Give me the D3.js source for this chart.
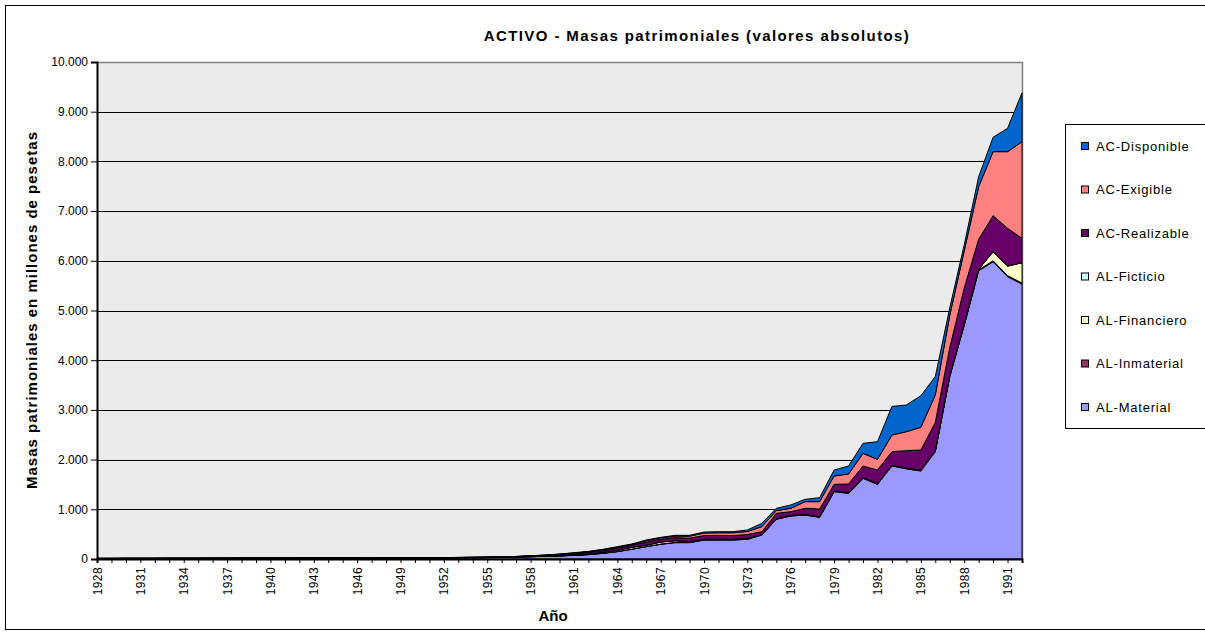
<!DOCTYPE html>
<html>
<head>
<meta charset="utf-8">
<script src="https://cdn.jsdelivr.net/npm/d3@7/dist/d3.min.js"></script>
<style>
  html, body { margin: 0; padding: 0; background: #fff; }
  svg { display: block; font-family: "Liberation Sans", Arial, sans-serif; }
</style>
</head>
<body>
<svg id="chart" width="1205" height="636"></svg>
<script>
// ---------------- DATA ----------------
const years = d3.range(1928, 1993);

const seriesNames = ["AL-Material", "AL-Inmaterial", "AL-Financiero", "AL-Ficticio",
                     "AC-Realizable", "AC-Exigible", "AC-Disponible"];
const seriesColors = ["#9999FF", "#993366", "#FFFFCC", "#CCFFFF",
                      "#660066", "#FF8080", "#0066CC"];

// values in millions of pesetas, 1928 .. 1992
const alMaterial = [
  8, 8, 9, 9, 9, 10, 10, 10, 11, 11,          // 1928-1937
  12, 12, 13, 13, 14, 14, 15, 15, 16, 17,     // 1938-1947
  18, 19, 20, 21, 22, 24, 26, 28, 32, 38,     // 1948-1957
  45, 52, 60, 74, 87, 114, 148, 195, 248, 295,// 1958-1967
  329, 329, 382, 382, 382, 396, 483, 798, 865, 885, // 1968-1977
  838, 1355, 1321, 1623, 1502, 1871, 1815, 1771, 2160, 3670, // 1978-1987
  4700, 5800, 5982, 5681, 5533                // 1988-1992
];
const alInmaterial = [
  1, 1, 1, 1, 1, 1, 1, 1, 1, 1,
  1, 1, 1, 1, 1, 1, 1, 1, 1, 1,
  1, 1, 1, 1, 1, 1, 1, 1, 1, 1,
  2, 2, 2, 2, 3, 3, 4, 4, 5, 6,
  6, 6, 7, 7, 7, 7, 5, 8, 8, 8,
  8, 10, 10, 10, 10, 10, 10, 10, 10, 12,
  15, 15, 20, 20, 20
];
const alFinanciero = [
  1, 1, 1, 1, 1, 1, 1, 1, 1, 1,
  1, 1, 1, 1, 1, 1, 1, 1, 1, 1,
  1, 1, 1, 1, 1, 2, 2, 2, 3, 3,
  4, 6, 8, 10, 14, 18, 24, 36, 25, 41,
  34, 14, 8, 8, 8, 8, 5, 5, 5, 5,
  5, 5, 5, 5, 5, 5, 5, 5, 5, 8,
  10, 15, 182, 194, 409
];
const alFicticio = [
  0, 0, 0, 0, 0, 0, 0, 0, 0, 0,
  0, 0, 0, 0, 0, 0, 0, 0, 0, 0,
  0, 0, 0, 0, 0, 0, 0, 0, 0, 0,
  0, 0, 0, 0, 0, 0, 0, 0, 0, 0,
  0, 0, 0, 0, 0, 0, 0, 0, 0, 0,
  0, 0, 0, 0, 0, 0, 0, 0, 0, 0,
  0, 0, 0, 0, 0
];
const acRealizable = [
  2, 2, 2, 2, 2, 2, 2, 2, 2, 2,
  2, 2, 2, 2, 2, 2, 2, 2, 2, 2,
  2, 2, 3, 3, 3, 3, 4, 4, 5, 6,
  8, 12, 18, 24, 30, 36, 44, 42, 60, 55,
  62, 70, 75, 78, 75, 82, 57, 108, 74, 121,
  155, 132, 173, 233, 274, 274, 349, 407, 570, 560,
  725, 603, 724, 759, 491
];
const acExigible = [
  1, 1, 1, 1, 1, 1, 1, 1, 1, 1,
  1, 1, 1, 1, 1, 1, 1, 1, 1, 1,
  1, 1, 1, 1, 1, 1, 1, 2, 2, 2,
  3, 5, 7, 9, 11, 14, 16, 15, 28, 25,
  30, 40, 50, 52, 55, 60, 101, 54, 67, 135,
  148, 168, 201, 255, 214, 335, 383, 457, 555, 650,
  750, 1058, 1288, 1542, 1944
];
const acDisponible = [
  1, 1, 1, 1, 1, 1, 1, 1, 1, 1,
  1, 1, 1, 1, 1, 1, 1, 1, 1, 1,
  1, 1, 1, 1, 1, 1, 1, 2, 2, 2,
  3, 4, 5, 8, 9, 10, 12, 10, 16, 14,
  15, 17, 21, 23, 23, 30, 67, 46, 68, 47,
  80, 121, 161, 201, 356, 575, 537, 635, 369, 150,
  120, 201, 289, 469, 983
];

const yTicks = [0, 1000, 2000, 3000, 4000, 5000, 6000, 7000, 8000, 9000, 10000];
const xLabelYears = d3.range(1928, 1993, 3);

const title = "ACTIVO - Masas patrimoniales (valores absolutos)";
const yTitle = "Masas patrimoniales en millones de pesetas";
const xTitle = "Año";

// ---------------- BUILD TABLE ----------------
const seriesArrays = [alMaterial, alInmaterial, alFinanciero, alFicticio,
                      acRealizable, acExigible, acDisponible];
const table = years.map((yr, i) => {
  const row = { year: yr };
  seriesNames.forEach((n, k) => row[n] = seriesArrays[k][i]);
  return row;
});

// ---------------- LAYOUT ----------------
const svg = d3.select("#chart");
const W = 1205, H = 636;
const plot = { left: 97, right: 1022, top: 62, bottom: 559 };

const x = d3.scaleLinear().domain([1928, 1992]).range([plot.left, plot.right]);
const y = d3.scaleLinear().domain([0, 10000]).range([plot.bottom, plot.top]);

const locale = d3.formatLocale({ decimal: ",", thousands: ".", grouping: [3], currency: ["", ""] });
const fmt = locale.format(",d");

// outer border
svg.append("rect")
  .attr("x", 5.5).attr("y", 5.5).attr("width", W + 10).attr("height", H - 11 - 1)
  .attr("fill", "#fff").attr("stroke", "#000").attr("stroke-width", 1);

// plot background
svg.append("rect")
  .attr("x", plot.left).attr("y", plot.top)
  .attr("width", plot.right - plot.left).attr("height", plot.bottom - plot.top)
  .attr("fill", "#EBEBEB");

// gridlines
svg.append("g")
  .selectAll("line")
  .data(yTicks.filter(d => d > 0 && d < 10000))
  .join("line")
  .attr("x1", plot.left).attr("x2", plot.right)
  .attr("y1", d => Math.round(y(d)) + 0.5).attr("y2", d => Math.round(y(d)) + 0.5)
  .attr("stroke", "#000").attr("stroke-width", 1);

// top and right border of plot
svg.append("path")
  .attr("d", `M${plot.left},${plot.top + 0.5}H${plot.right + 0.5}V${plot.bottom}`)
  .attr("fill", "none").attr("stroke", "#808080").attr("stroke-width", 1.5);

// stacked areas
const stack = d3.stack().keys(seriesNames);
const layers = stack(table);
const area = d3.area()
  .x(d => x(d.data.year))
  .y0(d => y(d[0]))
  .y1(d => y(d[1]));

svg.append("g")
  .selectAll("path")
  .data(layers)
  .join("path")
  .attr("d", area)
  .attr("fill", (d, i) => seriesColors[i])
  .attr("stroke", "#000")
  .attr("stroke-width", 1)
  .attr("stroke-linejoin", "miter");

// y axis
const yAxis = d3.axisLeft(y).tickValues(yTicks).tickFormat(fmt).tickSize(6).tickPadding(3);
const gy = svg.append("g").attr("transform", `translate(${plot.left},0)`).call(yAxis);
gy.select(".domain").attr("stroke", "#000").attr("stroke-width", 2);
gy.selectAll(".tick line").attr("stroke", "#000");
gy.selectAll(".tick text").attr("font-size", 12).attr("fill", "#000")
  .attr("font-family", "Liberation Sans, Arial, sans-serif");

// x axis
const xAxis = d3.axisBottom(x).tickValues(years).tickSize(4).tickFormat("");
const gx = svg.append("g").attr("transform", `translate(0,${plot.bottom})`).call(xAxis);
gx.select(".domain").attr("stroke", "#000").attr("stroke-width", 2);
gx.selectAll(".tick line").attr("stroke", "#000");

svg.append("g")
  .selectAll("text")
  .data(xLabelYears)
  .join("text")
  .attr("transform", d => `translate(${x(d) + 4.5},${plot.bottom + 8}) rotate(-90)`)
  .attr("text-anchor", "end")
  .attr("font-size", 12)
  .style("letter-spacing", "0.4px")
  .attr("fill", "#000")
  .text(d => d);

// titles
svg.append("text")
  .attr("x", 697).attr("y", 41)
  .attr("text-anchor", "middle")
  .attr("font-size", 15).attr("font-weight", "bold")
  .style("letter-spacing", "1.4px")
  .text(title);

svg.append("text")
  .attr("transform", `translate(37,310) rotate(-90)`)
  .attr("text-anchor", "middle")
  .attr("font-size", 15).attr("font-weight", "bold")
  .style("letter-spacing", "1px")
  .text(yTitle);

svg.append("text")
  .attr("x", 553).attr("y", 621)
  .attr("text-anchor", "middle")
  .attr("font-size", 15).attr("font-weight", "bold")
  .text(xTitle);

// legend
svg.append("rect")
  .attr("x", 1065.5).attr("y", 124.5).attr("width", 150).attr("height", 304)
  .attr("fill", "#fff").attr("stroke", "#000");

const legendOrder = seriesNames.map((n, i) => i).reverse();
const lg = svg.append("g")
  .selectAll("g")
  .data(legendOrder)
  .join("g")
  .attr("transform", (d, j) => `translate(1081,${146 + j * 43.5})`);
lg.append("rect")
  .attr("x", 0.5).attr("y", -3.5).attr("width", 7).attr("height", 7)
  .attr("fill", d => seriesColors[d]).attr("stroke", "#000");
lg.append("text")
  .attr("x", 15).attr("y", 4.5)
  .attr("font-size", 13)
  .style("letter-spacing", "0.8px")
  .text(d => seriesNames[d]);
</script>
</body>
</html>
